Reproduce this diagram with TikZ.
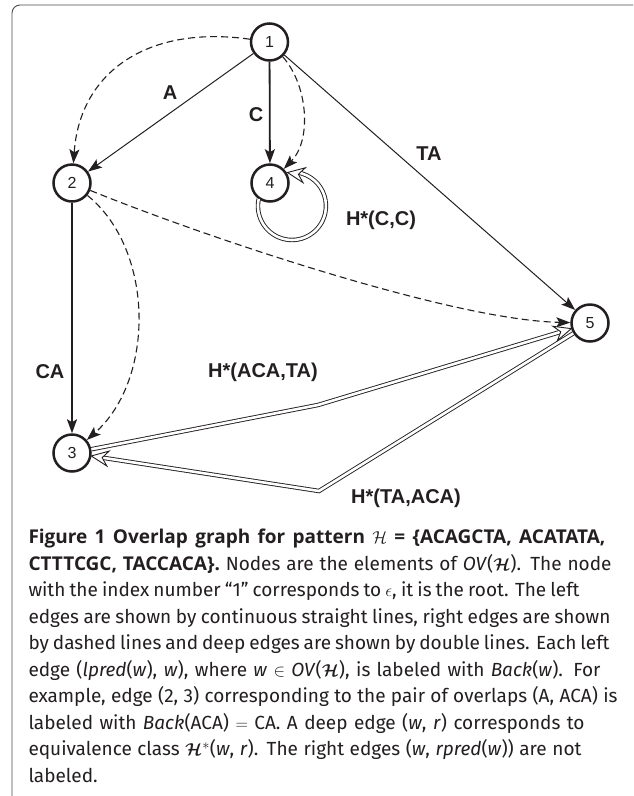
\documentclass[tikz,border=0pt]{standalone}
\usepackage{fontspec}
\usepackage{amsmath,bm}
\setmainfont{Fira Sans}
\newfontfamily\obold{Open Sans}
\newfontfamily\labfont{Liberation Sans}
\usetikzlibrary{arrows.meta,calc}
\definecolor{ink}{HTML}{231F20}
\newcommand\dhead[2]{%
  \draw[ink,line width=0.9pt,fill=white,line join=miter]
    ($(#1)!18.5pt!24:(#2)$) -- (#1) -- ($(#1)!18.5pt!-24:(#2)$) -- ($(#1)!11pt!(#2)$) -- cycle;}
\begin{document}
\begin{tikzpicture}[x=1pt,y=-1pt,
  vtx/.style={circle,draw=ink,line width=2.5pt,minimum size=37pt,inner sep=0pt,
    font=\labfont\fontsize{16}{16}\selectfont,text=ink},
  lbl/.style={font=\labfont\bfseries\fontsize{20}{20}\selectfont,text=ink,inner sep=0pt},
  tip/.style={-{Stealth[length=14pt,width=10pt,inset=3pt]}},
  thinedge/.style={draw=ink,line width=1pt,tip},
  thickedge/.style={draw=ink,line width=1.8pt,tip},
  dashedge/.style={draw=ink,line width=1.1pt,dash pattern=on 7pt off 4pt,tip},
  deepedge/.style={draw=ink,line width=0.9pt,double=white,double distance=2.6pt},
  frame/.style={draw=ink!80,line width=0.9pt,rounded corners=8pt},
  capline/.style={anchor=base west,inner sep=0pt,text=ink,font=\fontsize{19}{19}\selectfont}
]
\clip (0,0) rectangle (633,796);
\fill[white] (0,0) rectangle (633,796);
\draw[frame] (12,830) -- (12,5) -- (660,5);

\node[vtx] (n1) at (269.5,42) {1};
\node[vtx] (n2) at (72,183) {2};
\node[vtx] (n4) at (270,183) {4};
\node[vtx] (n5) at (590,323) {5};
\node[vtx] (n3) at (72,453) {3};

\coordinate (b1) at (318,405);
\coordinate (b2) at (319,491);
\coordinate (t5) at ($(n5)!19.5pt!(b1)$);
\coordinate (e5) at ($(n5)!30pt!(b1)$);
\coordinate (t3) at ($(n3)!19.5pt!(b2)$);
\coordinate (e3) at ($(n3)!30pt!(b2)$);
\coordinate (t4) at (287.5,172.5);
\coordinate (r4) at (306,175.5);

% left edges
\draw[thinedge] (n1) -- (n2);
\draw[thickedge] (n1) -- (n4);
\draw[thinedge] (n1) -- (n5);
\draw[thickedge] (n2) -- (n3);

% right edges
\draw[dashedge] (n1) .. controls (150,25) and (80,70) .. (n2);
\draw[dashedge] (n1) .. controls (308,85) and (312,140) .. (n4);
\draw[dashedge] (n2) .. controls (155,250) and (155,380) .. (n3);
\draw[dashedge] (n2) .. controls (200,235) and (450,320) .. (n5);

% deep edges
\draw[deepedge] (n3) -- (b1) -- (e5);
\dhead{t5}{b1}
\draw[deepedge] (n5) -- (b2) -- (e3);
\dhead{t3}{b2}
\draw[deepedge] (258.7,198.9) arc[start angle=192,end angle=-82,radius=34];
\dhead{t4}{r4}

% labels
\node[lbl] (lA) at (170,93) {A};
\node[lbl] (lC) at (256,115) {C};
\node[lbl] (lTA) at (429,154) {TA};
\node[lbl] (lHCC) at (381,220) {H*(C,C)};
\node[lbl] (lCA) at (50,372) {CA};
\node[lbl] (lH1) at (263,372) {H*(ACA,TA)};
\node[lbl] (lH2) at (406,498) {H*(TA,ACA)};

% caption
\node[capline] (c1) at (28.3,543.5) {\makebox[577pt][s]{\obold\bfseries Figure 1 Overlap graph for pattern $\mathcal{H}$ = \{ACAGCTA, ACATATA,}};
\node[capline] (c2) at (28.3,570) {\makebox[583pt][s]{{\obold\bfseries CTTTCGC, TACCACA\}.} Nodes are the elements of \textit{OV}($\bm{\mathcal{H}}$). The node}};
\node[capline] (c3) at (28.3,596.5) {\makebox[551pt][s]{with the index number “1” corresponds to $\epsilon$, it is the root. The left}};
\node[capline] (c4) at (28.3,623) {\makebox[582pt][s]{edges are shown by continuous straight lines, right edges are shown}};
\node[capline] (c5) at (28.3,649.5) {\makebox[581pt][s]{by dashed lines and deep edges are shown by double lines. Each left}};
\node[capline] (c6) at (28.3,676) {\makebox[572pt][s]{edge (\textit{lpred}(\textit{w}), \textit{w}), where \textit{w} $\in$ \textit{OV}($\bm{\mathcal{H}}$), is labeled with \textit{Back}(\textit{w}). For}};
\node[capline] (c7) at (28.3,702.5) {\makebox[589pt][s]{example, edge (2, 3) corresponding to the pair of overlaps (A, ACA) is}};
\node[capline] (c8) at (28.3,729) {\makebox[556pt][s]{labeled with \textit{Back}(ACA) $=$ CA. A deep edge (\textit{w}, \textit{r}) corresponds to}};
\node[capline] (c9) at (28.3,755.5) {\makebox[553pt][s]{equivalence class $\bm{\mathcal{H}}^{*}$(\textit{w}, \textit{r}). The right edges (\textit{w}, \textit{rpred}(\textit{w})) are not}};
\node[capline] (c10) at (28.3,782) {labeled.};
\end{tikzpicture}
\end{document}
